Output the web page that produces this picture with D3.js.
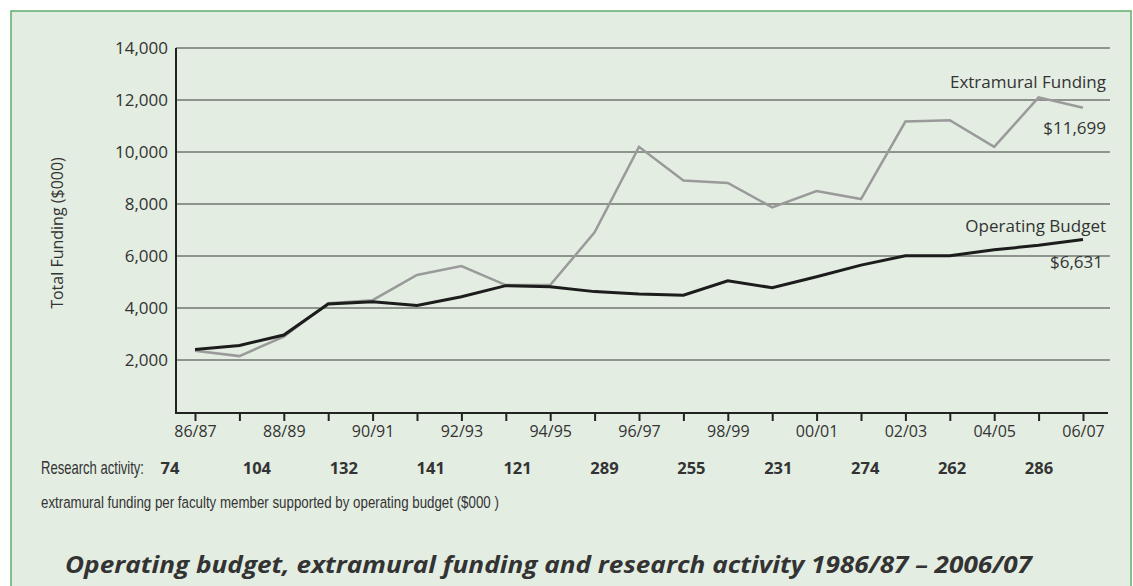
<!DOCTYPE html>
<html>
<head>
<meta charset="utf-8">
<script src="https://cdn.jsdelivr.net/npm/d3@7"></script>
<style>
  body { margin: 0; background: #fff; }
  text { fill: #333; }
</style>
</head>
<body>
<script>
const years = ['86/87', '87/88', '88/89', '89/90', '90/91', '91/92', '92/93', '93/94', '94/95', '95/96',
  '96/97', '97/98', '98/99', '99/00', '00/01', '01/02', '02/03', '03/04', '04/05', '05/06', '06/07']

const operatingBudget = [2400, 2560, 2960, 4150, 4240, 4100, 4430, 4860, 4820, 4630,
  4540, 4490, 5050, 4780, 5200, 5650, 6010, 6010, 6240, 6410, 6631]

const extramuralFunding = [2360, 2150, 2900, 4180, 4300, 5270, 5610, 4880, 4880, 6910,
  10200, 8900, 8810, 7870, 8500, 8190, 11170, 11220, 10200, 12100, 11699]

const yTicks = [2000, 4000, 6000, 8000, 10000, 12000, 14000]

const activityYears = ['86/87', '88/89', '90/91', '92/93', '94/95', '96/97', '98/99', '00/01', '02/03', '04/05', '06/07']
const researchActivity = [74, 104, 132, 141, 121, 289, 255, 231, 274, 262, 286]

const W = 1133, H = 586
const plot = { left: 176, right: 1110, top: 48, bottom: 412 }
const FONT = '"Open Sans", sans-serif'
const NARROW = '"Liberation Sans Narrow", "Liberation Sans", Arial, sans-serif'

const svg = d3.select('body').append('svg')
  .attr('width', W)
  .attr('height', H)

// panel
svg.append('rect')
  .attr('x', 11).attr('y', 11)
  .attr('width', 1120).attr('height', 600)
  .attr('fill', '#e3ede2')
  .attr('stroke', '#5fae6c')
  .attr('stroke-width', 1.5)

const x = d3.scalePoint()
  .domain(years)
  .range([195, 1083])

const y = d3.scaleLinear()
  .domain([0, 14000])
  .range([plot.bottom, plot.top])

// gridlines
svg.append('g')
  .selectAll('line')
  .data(yTicks)
  .join('line')
    .attr('x1', plot.left)
    .attr('x2', plot.right)
    .attr('y1', d => y(d))
    .attr('y2', d => y(d))
    .attr('stroke', '#3a3a3a')
    .attr('stroke-width', 1)

// y axis
const yAxis = svg.append('g')
  .attr('transform', `translate(${plot.left},0)`)
  .call(d3.axisLeft(y).tickValues(yTicks).tickSize(0).tickPadding(8).tickFormat(d3.format(',')))
yAxis.select('.domain')
  .attr('d', `M0,${plot.top}V${plot.bottom + 1}`)
  .attr('stroke', '#222').attr('stroke-width', 2)
yAxis.selectAll('text')
  .attr('font-family', FONT)
  .attr('font-size', 17)
  .attr('fill', '#333')

// x axis
const xAxis = svg.append('g')
  .attr('transform', `translate(0,${plot.bottom + 1})`)
  .call(d3.axisBottom(x).tickSize(8).tickPadding(5)
    .tickFormat((d, i) => i % 2 === 0 ? d : ''))
xAxis.select('.domain')
  .attr('d', `M${plot.left - 1},0H1108`)
  .attr('stroke', '#222').attr('stroke-width', 2)
xAxis.selectAll('.tick line').attr('stroke', '#222').attr('stroke-width', 2)
xAxis.selectAll('text')
  .attr('font-family', FONT)
  .attr('font-size', 16)
  .attr('fill', '#333')

svg.append('text')
  .attr('transform', `translate(57,233) rotate(-90)`)
  .attr('dy', '0.35em')
  .attr('text-anchor', 'middle')
  .attr('font-family', FONT)
  .attr('font-size', 16)
  .text('Total Funding ($000)')

// lines
const line = d3.line()
  .x((d, i) => x(years[i]))
  .y(d => y(d))

svg.append('path')
  .datum(extramuralFunding)
  .attr('d', line)
  .attr('fill', 'none')
  .attr('stroke', '#9a9a9a')
  .attr('stroke-width', 2.5)

svg.append('path')
  .datum(operatingBudget)
  .attr('d', line)
  .attr('fill', 'none')
  .attr('stroke', '#1c1c1c')
  .attr('stroke-width', 3)

// series labels
const labels = [
  { text: 'Extramural Funding', x: 1106, y: 82 },
  { text: '$' + d3.format(',')(extramuralFunding[20]), x: 1106, y: 128 },
  { text: 'Operating Budget', x: 1106, y: 226 },
  { text: '$' + d3.format(',')(operatingBudget[20]), x: 1103, y: 262 }
]
svg.append('g')
  .selectAll('text')
  .data(labels)
  .join('text')
    .attr('x', d => d.x)
    .attr('y', d => d.y)
    .attr('dy', '0.35em')
    .attr('text-anchor', 'end')
    .attr('font-family', FONT)
    .attr('font-size', 17)
    .text(d => d.text)

// narrow text: squeeze a normal face horizontally to the reference width
const narrowText = (str, tx, ty, size, width) => {
  const t = svg.append('text')
    .attr('dy', '0.35em')
    .attr('font-family', NARROW)
    .attr('font-size', size)
    .text(str)
  const sx = width / t.node().getComputedTextLength()
  t.attr('transform', `translate(${tx},${ty}) scale(${sx},1)`)
  return t
}

// research activity row
const xa = d3.scalePoint()
  .domain(activityYears)
  .range([170, 1039])

narrowText('Research activity:', 41, 468, 18, 103)

svg.append('g')
  .selectAll('text')
  .data(researchActivity)
  .join('text')
    .attr('x', (d, i) => xa(activityYears[i]))
    .attr('y', 468)
    .attr('dy', '0.35em')
    .attr('text-anchor', 'middle')
    .attr('font-family', FONT)
    .attr('font-weight', 'bold')
    .attr('font-size', 16.5)
    .attr('fill', '#222')
    .text(d => d)

narrowText('extramural funding per faculty member supported by operating budget ($000 )', 41, 502, 16.5, 458)

svg.append('text')
  .attr('x', 65).attr('y', 565).attr('dy', '0.35em')
  .attr('font-family', FONT)
  .attr('font-weight', 'bold')
  .attr('font-style', 'italic')
  .attr('font-size', 23)
  .attr('textLength', 967)
  .attr('lengthAdjust', 'spacingAndGlyphs')
  .attr('fill', '#1e1e1e')
  .text('Operating budget, extramural funding and research activity 1986/87 – 2006/07')
</script>
</body>
</html>
